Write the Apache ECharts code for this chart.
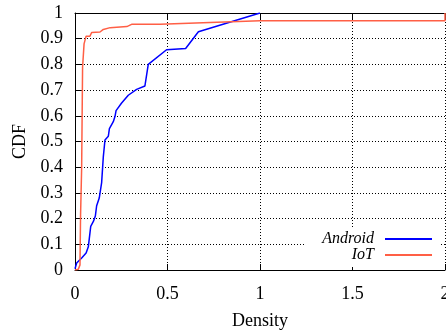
<!DOCTYPE html>
<html>
<head>
<meta charset="utf-8">
<script src="https://cdn.jsdelivr.net/npm/echarts@6/dist/echarts.min.js"></script>
<style>
    html, body { margin: 0; padding: 0; background: #fff; }
    #cdf { width: 446px; height: 332px; }
</style>
</head>
<body>
<div id="cdf"></div>
<script>
// Android 密度 CDF
const androidX = [0, 0.009, 0.036, 0.06, 0.072, 0.085, 0.1, 0.11, 0.117, 0.131, 0.144, 0.153, 0.162, 0.18, 0.186, 0.207, 0.216, 0.222, 0.252, 0.288, 0.333, 0.378, 0.396, 0.495, 0.598, 0.667, 1.0];
const androidY = [0.005, 0.027, 0.047, 0.066, 0.09, 0.17, 0.19, 0.21, 0.25, 0.28, 0.34, 0.44, 0.506, 0.52, 0.55, 0.577, 0.597, 0.62, 0.65, 0.68, 0.703, 0.716, 0.80, 0.857, 0.862, 0.927, 1.0];
// IoT 密度 CDF
const iotX = [0, 0.018, 0.027, 0.03, 0.036, 0.041, 0.049, 0.06, 0.081, 0.09, 0.135, 0.153, 0.19, 0.28, 0.306, 0.46, 0.73, 1.0, 2.0, 2.0];
const iotY = [0, 0.003, 0.02, 0.21, 0.40, 0.79, 0.88, 0.91, 0.91, 0.924, 0.926, 0.936, 0.943, 0.947, 0.956, 0.956, 0.963, 0.97, 0.97, 1.0];
const seriesNames = ['Android', 'IoT'];
const seriesColors = ['#0000ff', '#ff5f45'];

const font = 'Liberation Serif';
const pair = (xs, ys) => xs.map((x, i) => [x, ys[i]]);
const grid = { show: true, type: [1, 2], color: '#000', width: 1 };

let chart = echarts.init(document.getElementById('cdf'));
let option = {
    animation: false,
    grid: { left: 75, right: 1, top: 13, bottom: 62, outerBoundsMode: 'none', containLabel: false },
    legend: {
        right: 6,
        top: 229,
        orient: 'vertical',
        align: 'right',
        icon: 'rect',
        itemWidth: 47,
        itemHeight: 2,
        itemGap: 0,
        backgroundColor: '#fff',
        padding: [2, 8, 4, 18],
        textStyle: { fontFamily: font, fontStyle: 'italic', fontSize: 16, color: '#000', padding: [0, 6, 0, 0] },
        data: seriesNames
    },
    xAxis: [{
        type: 'value', min: 0, max: 2, interval: 0.5,
        name: 'Density', nameLocation: 'middle', nameGap: 42,
        nameTextStyle: { fontFamily: font, fontSize: 18, color: '#000' },
        axisLine: { show: true, onZero: false, lineStyle: { color: '#000', width: 1 } },
        axisTick: { show: true, inside: true, length: 6, lineStyle: { color: '#000' } },
        axisLabel: { fontFamily: font, fontSize: 18, color: '#000', margin: 15, formatter: v => String(+v.toFixed(1)) },
        splitLine: { show: true, lineStyle: grid }
    }, {
        type: 'value', min: 0, max: 2, interval: 0.5, position: 'top',
        axisLine: { show: true, onZero: false, lineStyle: { color: '#000', width: 1 } },
        axisTick: { show: true, inside: true, length: 6, lineStyle: { color: '#000' } },
        axisLabel: { show: false },
        splitLine: { show: false }
    }],
    yAxis: {
        type: 'value', min: 0, max: 1, interval: 0.1,
        name: 'CDF', nameLocation: 'middle', nameGap: 46,
        nameTextStyle: { fontFamily: font, fontSize: 18, color: '#000' },
        axisLine: { show: true, onZero: false, lineStyle: { color: '#000', width: 1 } },
        axisTick: { show: true, inside: true, length: 6, lineStyle: { color: '#000' } },
        axisLabel: { fontFamily: font, fontSize: 18, color: '#000', margin: 12, formatter: v => String(+v.toFixed(1)) },
        splitLine: { show: true, lineStyle: grid }
    },
    series: [{
        name: seriesNames[0],
        type: 'line',
        symbol: 'none',
        color: seriesColors[0],
        lineStyle: { width: 1.5 },
        data: pair(androidX, androidY)
    }, {
        name: seriesNames[1],
        type: 'line',
        symbol: 'none',
        color: seriesColors[1],
        lineStyle: { width: 1.5 },
        data: pair(iotX, iotY)
    }]
};
chart.setOption(option);
window.onresize = chart.resize;
</script>
</body>
</html>
